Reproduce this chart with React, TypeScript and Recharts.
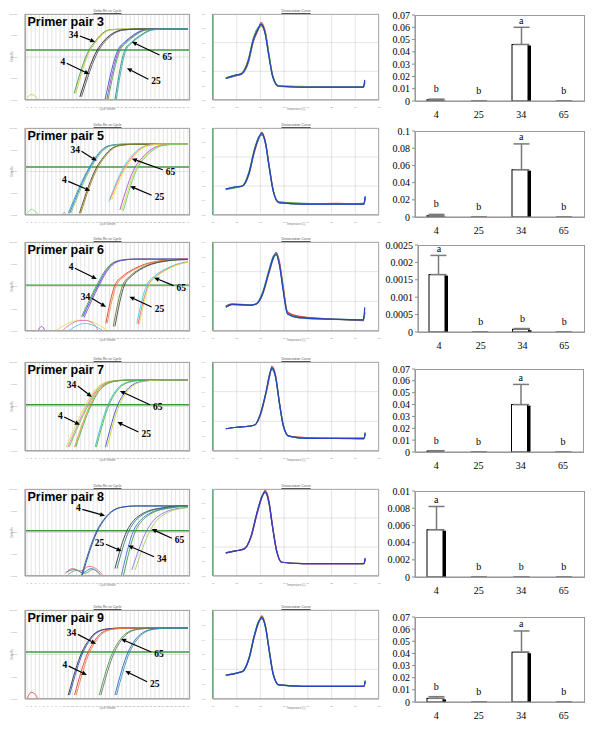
import React from "react";
import {
  LineChart,
  Line,
  XAxis,
  YAxis,
  CartesianGrid,
  ReferenceLine,
  ComposedChart,
  Bar,
  ErrorBar,
  Scatter,
} from "recharts";

// ---- bar chart data (relative expression, 4 samples) ----
const SAMPLES = ["4", "25", "34", "65"];

const expr3 = [0.001, 0, 0.046, 0];
const sd3 = [0.0005, 0, 0.014, 0];
const let3 = ["b", "b", "a", "b"];

const expr5 = [0.0015, 0, 0.055, 0];
const sd5 = [0.0015, 0, 0.03, 0];
const let5 = ["b", "b", "a", "b"];

const expr6 = [0.00165, 0, 0.00008, 0];
const sd6 = [0.00055, 0, 0.00002, 0];
const let6 = ["a", "b", "b", "b"];

const expr7 = [0.0008, 0, 0.04, 0];
const sd7 = [0.0003, 0, 0.017, 0];
const let7 = ["b", "b", "a", "b"];

const expr8 = [0.0055, 0, 0, 0];
const sd8 = [0.0027, 0, 0, 0];
const let8 = ["a", "b", "b", "b"];

const expr9 = [0.003, 0, 0.041, 0];
const sd9 = [0.0014, 0, 0.0175, 0];
const let9 = ["b", "b", "a", "b"];

const ticks07 = [0, 0.01, 0.02, 0.03, 0.04, 0.05, 0.06, 0.07];
const ticks1 = [0, 0.02, 0.04, 0.06, 0.08, 0.1];
const ticks0025 = [0, 0.0005, 0.001, 0.0015, 0.002, 0.0025];
const ticks001 = [0, 0.002, 0.004, 0.006, 0.008, 0.01];

// ---- amplification plots: [cycle, delta Rn] ----
const amp3 = [
  { c: "#d8c840", p: [[1, 0.0012], [2, 0.0018], [3, 0.0015], [3.6, 0.001]] },
  { c: "#2e9e3e", p: [[12.4, 0.002], [16.0, 0.21], [17.4, 0.5], [18.7, 1.0], [21, 1.85], [25, 2.0], [40, 2.0]] },
  { c: "#c9c23a", p: [[12.8, 0.002], [16.3, 0.21], [17.7, 0.5], [19, 1.0], [21.4, 1.85], [25.5, 2.0], [40, 2.0]] },
  { c: "#222222", p: [[13.8, 0.0014], [18.0, 0.21], [19.4, 0.5], [21.0, 1.0], [24, 1.8], [28, 2.0], [40, 2.0]] },
  { c: "#555566", p: [[14.2, 0.0014], [18.4, 0.21], [19.8, 0.5], [21.4, 1.0], [24.4, 1.8], [28.5, 2.0], [40, 2.0]] },
  { c: "#3a55c8", p: [[19.9, 0.001], [23.0, 0.21], [24.7, 0.5], [26.6, 1.0], [29.5, 1.85], [33, 2.0], [40, 2.0]] },
  { c: "#9a48c8", p: [[20.3, 0.001], [23.3, 0.21], [25, 0.5], [26.9, 1.0], [29.8, 1.85], [33.5, 2.0], [40, 2.0]] },
  { c: "#4aa84a", p: [[20.6, 0.001], [23.6, 0.21], [25.3, 0.5], [27.2, 1.0], [30.1, 1.85], [34, 2.0], [40, 2.0]] },
  { c: "#2a8c8c", p: [[22.3, 0.001], [24.7, 0.21], [26.4, 0.5], [28.4, 1.0], [31.3, 1.85], [35, 2.0], [40, 2.0]] },
  { c: "#38a8a0", p: [[22.6, 0.001], [25.0, 0.21], [26.7, 0.5], [28.7, 1.0], [31.6, 1.85], [35.5, 2.0], [40, 2.0]] },
];
const arr3 = [
  { t: "34", from: [13.8, 0.95], to: [17.5, 0.5] },
  { t: "4", from: [10.6, 0.051], to: [16.1, 0.016] },
  { t: "65", from: [33.1, 0.123], to: [26.4, 0.51] },
  { t: "25", from: [30.4, 0.0092], to: [25.2, 0.03] },
];

const amp5 = [
  { c: "#88dd88", p: [[1, 0.0012], [2, 0.0018], [3, 0.0015], [3.5, 0.0011]] },
  { c: "#e070d0", p: [[9.5, 0.001], [10, 0.0013], [10.5, 0.001]] },
  { c: "#2aa0a8", p: [[11.0, 0.0012], [16.1, 0.16], [17.6, 0.45], [19.0, 0.95], [21.3, 1.6], [24, 1.8], [40, 1.8]] },
  { c: "#3a70d0", p: [[11.3, 0.0012], [16.3, 0.16], [17.8, 0.45], [19.2, 0.95], [21.5, 1.6], [24.3, 1.8], [40, 1.8]] },
  { c: "#6cc46c", p: [[11.6, 0.0012], [16.6, 0.16], [18.1, 0.45], [19.5, 0.95], [21.8, 1.6], [24.8, 1.8], [40, 1.8]] },
  { c: "#5a3a1a", p: [[13.7, 0.0012], [17.9, 0.16], [19.5, 0.45], [21.0, 0.95], [23.5, 1.6], [27, 1.8], [40, 1.8]] },
  { c: "#8a8a20", p: [[14.0, 0.0012], [18.2, 0.16], [19.8, 0.45], [21.3, 0.95], [23.8, 1.6], [27.5, 1.8], [40, 1.8]] },
  { c: "#50e0e0", p: [[20.8, 0.004], [24.4, 0.16], [26.1, 0.45], [27.7, 0.95], [30.2, 1.6], [32.7, 1.8], [40, 1.8]] },
  { c: "#ff6a8a", p: [[21.1, 0.005], [24.7, 0.16], [26.4, 0.45], [28, 0.95], [30.5, 1.6], [33, 1.8], [40, 1.8]] },
  { c: "#e8e040", p: [[21.5, 0.005], [25.0, 0.16], [26.7, 0.45], [28.3, 0.95], [30.8, 1.6], [33.5, 1.8], [40, 1.8]] },
  { c: "#a850e0", p: [[23.5, 0.0017], [27.2, 0.16], [29, 0.45], [30.8, 0.95], [33.5, 1.6], [37, 1.8], [40, 1.8]] },
  { c: "#d8d840", p: [[24.0, 0.0017], [27.6, 0.16], [29.4, 0.45], [31.2, 0.95], [33.9, 1.6], [37.5, 1.8], [40, 1.8]] },
  { c: "#6ccc6c", p: [[24.3, 0.0015], [27.9, 0.16], [29.7, 0.45], [31.5, 0.95], [34.2, 1.6], [38, 1.8], [40, 1.8]] },
];
const arr5 = [
  { t: "34", from: [14.2, 0.85], to: [17.9, 0.31] },
  { t: "4", from: [11.0, 0.035], to: [16.3, 0.013] },
  { t: "65", from: [33.9, 0.12], to: [26.4, 0.39] },
  { t: "25", from: [31.2, 0.0081], to: [26.0, 0.021] },
];

const amp6 = [
  { c: "#e8e050", p: [[7.8, 0.001], [10, 0.0018], [12, 0.0027], [14.2, 0.0031], [16.5, 0.0027], [18.5, 0.0018], [20.7, 0.001]] },
  { c: "#e070c0", p: [[9.5, 0.001], [11.5, 0.002], [13.5, 0.0029], [15, 0.003], [17, 0.0022], [18.3, 0.001]] },
  { c: "#50c8e0", p: [[11, 0.001], [13, 0.0017], [15, 0.0022], [17, 0.0018], [19.5, 0.001]] },
  { c: "#9050c0", p: [[3.6, 0.001], [4.5, 0.0016], [5.4, 0.001]] },
  { c: "#3aa844", p: [[14.2, 0.0044], [17.9, 0.115], [19.5, 0.4], [21.0, 0.9], [23.5, 1.5], [26.5, 1.7], [40, 1.7]] },
  { c: "#3550d0", p: [[14.5, 0.0044], [18.2, 0.115], [19.8, 0.4], [21.3, 0.9], [23.8, 1.5], [27, 1.7], [40, 1.7]] },
  { c: "#8a44c8", p: [[14.8, 0.004], [18.5, 0.115], [20.1, 0.4], [21.6, 0.9], [24.1, 1.5], [27.5, 1.7], [40, 1.7]] },
  { c: "#e03a30", p: [[20.1, 0.0022], [22.3, 0.115], [24.3, 0.3], [26.8, 0.6], [29.5, 1.0], [32.4, 1.35], [36, 1.6], [40, 1.7]] },
  { c: "#f08a50", p: [[20.4, 0.0022], [22.7, 0.115], [24.7, 0.3], [27.2, 0.6], [29.9, 1.0], [32.8, 1.35], [36.4, 1.6], [40, 1.68]] },
  { c: "#6a7a30", p: [[21.9, 0.0016], [24.2, 0.115], [26.0, 0.3], [28.2, 0.6], [30.8, 1.0], [33.8, 1.35], [37.5, 1.6], [40, 1.65]] },
  { c: "#404850", p: [[22.3, 0.0016], [24.6, 0.115], [26.4, 0.3], [28.6, 0.6], [31.2, 1.0], [34.2, 1.35], [37.9, 1.58], [40, 1.63]] },
  { c: "#40d0e0", p: [[27.6, 0.0022], [30.0, 0.115], [32.0, 0.3], [34.5, 0.6], [37.2, 1.0], [40, 1.3]] },
  { c: "#e060a0", p: [[27.9, 0.002], [30.4, 0.115], [32.4, 0.3], [34.9, 0.6], [37.6, 1.0], [40, 1.25]] },
  { c: "#e0e040", p: [[28.2, 0.002], [30.6, 0.115], [32.6, 0.3], [35.1, 0.6], [37.8, 1.0], [40, 1.22]] },
];
const arr6 = [
  { t: "4", from: [12.6, 0.66], to: [17.9, 0.22] },
  { t: "34", from: [16.7, 0.03], to: [20.1, 0.012] },
  { t: "65", from: [36.5, 0.11], to: [31.8, 0.25] },
  { t: "25", from: [31.2, 0.012], to: [25.8, 0.035] },
];

const amp7 = [
  { c: "#e0e040", p: [[10.5, 0.0015], [15.2, 0.12], [17, 0.45], [18.8, 0.95], [21.5, 1.4], [25, 1.55], [40, 1.55]] },
  { c: "#f080b0", p: [[10.9, 0.0015], [15.6, 0.12], [17.4, 0.45], [19.2, 0.95], [21.9, 1.4], [25.5, 1.55], [40, 1.55]] },
  { c: "#60c060", p: [[11.2, 0.0015], [15.9, 0.12], [17.7, 0.45], [19.5, 0.95], [22.2, 1.4], [25.8, 1.55], [40, 1.55]] },
  { c: "#f08a20", p: [[12.5, 0.0015], [16.3, 0.12], [18, 0.45], [19.8, 0.95], [22.5, 1.4], [26, 1.55], [40, 1.55]] },
  { c: "#40b040", p: [[12.8, 0.0015], [16.6, 0.12], [18.3, 0.45], [20.1, 0.95], [22.8, 1.4], [26.4, 1.55], [40, 1.55]] },
  { c: "#30c0c0", p: [[17.5, 0.0015], [20.6, 0.12], [22.3, 0.45], [24, 0.95], [26.8, 1.4], [30, 1.55], [40, 1.55]] },
  { c: "#50b050", p: [[17.8, 0.0015], [20.9, 0.12], [22.6, 0.45], [24.3, 0.95], [27.1, 1.4], [30.4, 1.55], [40, 1.55]] },
  { c: "#3a50c8", p: [[20, 0.0015], [23, 0.12], [24.8, 0.45], [26.6, 0.95], [29.5, 1.4], [33, 1.55], [40, 1.55]] },
  { c: "#d0d040", p: [[20.4, 0.0015], [23.4, 0.12], [25.2, 0.45], [27, 0.95], [29.9, 1.4], [33.5, 1.55], [40, 1.55]] },
];
const arr7 = [
  { t: "34", from: [13.3, 0.83], to: [16.7, 0.27] },
  { t: "4", from: [10.0, 0.034], to: [13.8, 0.015] },
  { t: "65", from: [30.8, 0.12], to: [23.5, 0.5] },
  { t: "25", from: [28.0, 0.0071], to: [22.9, 0.02] },
];

const amp8 = [
  { c: "#e07090", p: [[10.2, 0.0013], [12, 0.0022], [14, 0.0017], [16, 0.0028], [18, 0.002], [19.5, 0.001]] },
  { c: "#5070d0", p: [[10.5, 0.0015], [12.5, 0.002], [14.5, 0.0014], [16.5, 0.0022], [18.7, 0.0012]] },
  { c: "#60b060", p: [[11, 0.0012], [13, 0.0018], [15, 0.0013], [17, 0.002], [19, 0.001]] },
  { c: "#206060", p: [[14.4, 0.0011], [18.1, 0.12], [19.8, 0.4], [21.4, 0.85], [24, 1.45], [27.5, 1.66], [40, 1.66]] },
  { c: "#3050c0", p: [[14.2, 0.0011], [17.9, 0.12], [19.6, 0.4], [21.2, 0.85], [23.8, 1.45], [27, 1.66], [40, 1.66]] },
  { c: "#304040", p: [[22.3, 0.0022], [25.2, 0.12], [26.8, 0.35], [28.4, 0.63], [30.5, 1.0], [33.2, 1.3], [37, 1.6], [40, 1.66]] },
  { c: "#3a7a7a", p: [[22.8, 0.0022], [25.7, 0.12], [27.3, 0.35], [28.9, 0.63], [31.0, 1.0], [33.7, 1.3], [37.5, 1.6], [40, 1.65]] },
  { c: "#4070e0", p: [[23.9, 0.0011], [26.8, 0.12], [28.4, 0.35], [30, 0.63], [32.1, 1.0], [34.8, 1.3], [38.5, 1.6], [40, 1.63]] },
  { c: "#40a040", p: [[24.4, 0.0011], [27.3, 0.12], [28.9, 0.35], [30.5, 0.63], [32.6, 1.0], [35.3, 1.3], [39, 1.58], [40, 1.61]] },
  { c: "#9070e0", p: [[26.4, 0.0019], [30.0, 0.12], [31.6, 0.35], [33.2, 0.63], [35.3, 1.0], [38, 1.3], [40, 1.45]] },
  { c: "#a0d060", p: [[27.2, 0.0019], [30.8, 0.12], [32.4, 0.35], [34, 0.63], [36.1, 1.0], [38.8, 1.3], [40, 1.4]] },
];
const arr8 = [
  { t: "4", from: [14.4, 1.15], to: [19.9, 0.59] },
  { t: "25", from: [20.1, 0.029], to: [23.9, 0.014] },
  { t: "34", from: [31.8, 0.0077], to: [25.5, 0.025] },
  { t: "65", from: [36.1, 0.054], to: [31.2, 0.144] },
];

const amp9 = [
  { c: "#e04040", p: [[1, 0.001], [2, 0.002], [3, 0.0016], [3.6, 0.001]] },
  { c: "#303030", p: [[11, 0.0015], [14.3, 0.13], [16, 0.45], [17.6, 0.95], [20.3, 1.4], [24, 1.55], [40, 1.55]] },
  { c: "#3050c0", p: [[11.3, 0.0015], [14.6, 0.13], [16.3, 0.45], [17.9, 0.95], [20.6, 1.4], [24.4, 1.55], [40, 1.55]] },
  { c: "#e04040", p: [[12.5, 0.0015], [15.8, 0.13], [17.5, 0.45], [19.1, 0.95], [21.8, 1.4], [25.5, 1.55], [40, 1.55]] },
  { c: "#f08030", p: [[12.9, 0.0015], [16.2, 0.13], [17.9, 0.45], [19.5, 0.95], [22.2, 1.4], [26, 1.55], [40, 1.55]] },
  { c: "#40a040", p: [[18.5, 0.0015], [21.8, 0.13], [23.5, 0.45], [25.2, 0.95], [28, 1.4], [32, 1.55], [40, 1.55]] },
  { c: "#707070", p: [[18.9, 0.0015], [22.2, 0.13], [23.9, 0.45], [25.6, 0.95], [28.4, 1.4], [32.5, 1.55], [40, 1.55]] },
  { c: "#3a60c8", p: [[22.3, 0.0015], [25.5, 0.13], [27.2, 0.45], [29, 0.95], [31.8, 1.4], [35.5, 1.55], [40, 1.55]] },
  { c: "#30a0a0", p: [[22.7, 0.0015], [25.9, 0.13], [27.6, 0.45], [29.4, 0.95], [32.2, 1.4], [36, 1.55], [40, 1.55]] },
];
const arr9 = [
  { t: "34", from: [13.3, 0.8], to: [17.7, 0.3] },
  { t: "4", from: [11.1, 0.03], to: [15.5, 0.012] },
  { t: "65", from: [31.1, 0.13], to: [23.8, 0.5] },
  { t: "25", from: [30.1, 0.006], to: [24.8, 0.018] },
];

// ---- dissociation curves: temperature (C) and derivative ----
const dT3 = [62.7, 65.0, 66.0, 67.5, 68.5, 69.6, 70.1, 71.0, 71.7, 72.6, 73.8, 78.6, 85.6, 91.7, 92.0];
const dv3 = [
  { c: "#3aa83a", v: [0.11, 0.15, 0.17, 0.38, 0.66, 0.82, 0.84, 0.75, 0.48, 0.14, 0.0, -0.015, -0.025, -0.018, 0.06] },
  { c: "#d04848", v: [0.1, 0.14, 0.16, 0.33, 0.61, 0.79, 0.88, 0.76, 0.47, 0.13, -0.01, -0.02, -0.015, -0.025, 0.05] },
  { c: "#9ac020", v: [0.1, 0.15, 0.17, 0.37, 0.65, 0.81, 0.83, 0.74, 0.47, 0.135, 0.0, -0.01, -0.02, -0.02, 0.03] },
  { c: "#20a0a0", v: [0.105, 0.148, 0.162, 0.35, 0.63, 0.81, 0.85, 0.72, 0.44, 0.12, -0.005, -0.022, -0.02, -0.02, 0.04] },
  { c: "#2a40c0", v: [0.1, 0.15, 0.165, 0.36, 0.64, 0.8, 0.86, 0.73, 0.45, 0.125, -0.005, -0.02, -0.02, -0.02, 0.08] },
];
const dT5 = [62.7, 65.0, 66.2, 67.6, 68.7, 69.7, 70.3, 71.1, 71.8, 72.7, 73.9, 79, 86, 91.8, 92.1];
const dv5 = [
  { c: "#3aa83a", v: [0.15, 0.18, 0.2, 0.4, 0.7, 0.88, 0.9, 0.78, 0.5, 0.14, -0.02, -0.04, -0.05, -0.04, 0.03] },
  { c: "#d04848", v: [0.16, 0.19, 0.2, 0.36, 0.66, 0.86, 0.94, 0.8, 0.5, 0.14, -0.03, -0.05, -0.04, -0.05, 0.04] },
  { c: "#20a0a0", v: [0.16, 0.185, 0.2, 0.38, 0.68, 0.87, 0.92, 0.77, 0.47, 0.13, -0.03, -0.05, -0.05, -0.05, 0.05] },
  { c: "#2a40c0", v: [0.16, 0.19, 0.2, 0.38, 0.68, 0.88, 0.93, 0.78, 0.48, 0.13, -0.03, -0.05, -0.05, -0.05, 0.06] },
];
const dT6 = [62.7, 64, 66, 68, 69.2, 70.5, 71.8, 72.8, 73.3, 74.0, 74.8, 75.7, 78, 85, 91.7, 92.0];
const dv6 = [
  { c: "#3aa83a", v: [0.13, 0.16, 0.155, 0.15, 0.17, 0.33, 0.62, 0.82, 0.84, 0.72, 0.38, 0.05, -0.01, -0.04, -0.05, 0.04] },
  { c: "#d04848", v: [0.14, 0.165, 0.16, 0.15, 0.17, 0.3, 0.58, 0.79, 0.86, 0.74, 0.4, 0.06, 0.0, -0.04, -0.06, 0.05] },
  { c: "#20a0a0", v: [0.12, 0.155, 0.15, 0.15, 0.17, 0.32, 0.6, 0.8, 0.85, 0.7, 0.36, 0.04, -0.02, -0.045, -0.05, 0.06] },
  { c: "#2a40c0", v: [0.12, 0.16, 0.155, 0.148, 0.165, 0.31, 0.6, 0.8, 0.83, 0.69, 0.34, 0.03, -0.02, -0.04, -0.05, 0.12] },
];
const dT7 = [62.7, 65, 67, 68.8, 70, 71.2, 72, 72.4, 73.2, 74, 74.8, 76, 80, 86, 91.8, 92.1];
const dv7 = [
  { c: "#3aa83a", v: [0.1, 0.12, 0.13, 0.15, 0.3, 0.6, 0.84, 0.9, 0.8, 0.46, 0.16, 0.0, -0.03, -0.03, -0.03, 0.03] },
  { c: "#d04848", v: [0.1, 0.12, 0.13, 0.15, 0.28, 0.58, 0.82, 0.94, 0.82, 0.45, 0.15, 0.0, -0.02, -0.03, -0.03, 0.04] },
  { c: "#20a0a0", v: [0.1, 0.12, 0.13, 0.15, 0.3, 0.6, 0.85, 0.91, 0.79, 0.44, 0.14, 0.0, -0.03, -0.03, -0.04, 0.04] },
  { c: "#2a40c0", v: [0.1, 0.12, 0.13, 0.15, 0.3, 0.6, 0.85, 0.92, 0.8, 0.45, 0.15, 0.0, -0.03, -0.03, -0.03, 0.05] },
];
const dT8 = [62.7, 65, 66.5, 68, 69.2, 70.3, 71, 71.8, 72.5, 73.4, 74.5, 79, 86, 91.8, 92.1];
const dv8 = [
  { c: "#3aa83a", v: [0.12, 0.15, 0.17, 0.35, 0.66, 0.9, 0.95, 0.8, 0.5, 0.15, -0.01, -0.03, -0.03, -0.03, 0.03] },
  { c: "#d04848", v: [0.12, 0.15, 0.17, 0.33, 0.63, 0.88, 0.98, 0.84, 0.52, 0.16, -0.01, -0.03, -0.03, -0.03, 0.04] },
  { c: "#a040c0", v: [0.12, 0.15, 0.17, 0.34, 0.65, 0.89, 0.96, 0.82, 0.5, 0.15, -0.01, -0.03, -0.03, -0.03, 0.03] },
  { c: "#2a40c0", v: [0.12, 0.15, 0.17, 0.34, 0.65, 0.89, 0.96, 0.81, 0.5, 0.15, -0.01, -0.03, -0.03, -0.03, 0.05] },
];
const dT9 = [62.7, 65, 66.2, 67.6, 68.7, 69.7, 70.3, 71.1, 71.8, 72.7, 73.9, 79, 86, 91.8, 92.1];
const dv9 = [
  { c: "#3aa83a", v: [0.12, 0.15, 0.17, 0.36, 0.66, 0.86, 0.88, 0.76, 0.48, 0.14, -0.01, -0.03, -0.03, -0.03, 0.03] },
  { c: "#d04848", v: [0.12, 0.15, 0.17, 0.34, 0.63, 0.84, 0.92, 0.78, 0.49, 0.14, -0.01, -0.03, -0.03, -0.03, 0.04] },
  { c: "#20a0a0", v: [0.12, 0.15, 0.17, 0.35, 0.65, 0.85, 0.89, 0.76, 0.47, 0.13, -0.01, -0.03, -0.03, -0.03, 0.04] },
  { c: "#2a40c0", v: [0.12, 0.15, 0.17, 0.35, 0.65, 0.85, 0.9, 0.76, 0.47, 0.13, -0.01, -0.03, -0.03, -0.03, 0.05] },
];

const ROWS = [
  { label: "Primer pair 3", amp: amp3, arrows: arr3, thr: 0.21, dT: dT3, dv: dv3, expr: expr3, sd: sd3, letters: let3, ticks: ticks07 },
  { label: "Primer pair 5", amp: amp5, arrows: arr5, thr: 0.16, dT: dT5, dv: dv5, expr: expr5, sd: sd5, letters: let5, ticks: ticks1 },
  { label: "Primer pair 6", amp: amp6, arrows: arr6, thr: 0.115, dT: dT6, dv: dv6, expr: expr6, sd: sd6, letters: let6, ticks: ticks0025 },
  { label: "Primer pair 7", amp: amp7, arrows: arr7, thr: 0.12, dT: dT7, dv: dv7, expr: expr7, sd: sd7, letters: let7, ticks: ticks07 },
  { label: "Primer pair 8", amp: amp8, arrows: arr8, thr: 0.12, dT: dT8, dv: dv8, expr: expr8, sd: sd8, letters: let8, ticks: ticks001 },
  { label: "Primer pair 9", amp: amp9, arrows: arr9, thr: 0.13, dT: dT9, dv: dv9, expr: expr9, sd: sd9, letters: let9, ticks: ticks07 },
];

// layout (pixels)
const AMP_X = [25, 190];
const DIS_X = [213, 379];
const PANEL_Y = [[14, 100], [128, 215], [242, 331], [362, 451], [489, 576], [610, 699]];
const BAR_Y = [[15, 101], [131, 217], [245, 332], [369, 452], [491, 577], [617, 702]];
const BAR_X = [[415, 585], [415, 585], [418, 585], [415, 584], [415, 585], [415, 585]];

const CYCLES = Array.from({ length: 40 }, (_, i) => i + 1);
const AMP_TICKS = [0.001, 0.01, 0.1, 1, 10];
const TEMP_TICKS = [60, 65, 70, 75, 80, 85, 90, 95];
const DER_TICKS = [-0.2, 0, 0.2, 0.4, 0.6, 0.8, 1.0];

const tiny = { fontSize: 2.4, fill: "#888" };
const SERIF = "'Liberation Serif', 'Times New Roman', serif";

function ArrowMark(props: any) {
  const { x1, y1, x2, y2, label } = props;
  if ([x1, y1, x2, y2].some((v) => v == null || isNaN(v))) return null;
  const ang = Math.atan2(y2 - y1, x2 - x1);
  const hl = 5;
  const hw = 2.3;
  const bx = x2 - hl * Math.cos(ang);
  const by = y2 - hl * Math.sin(ang);
  const px = -Math.sin(ang) * hw;
  const py = Math.cos(ang) * hw;
  const right = x2 > x1;
  return (
    <g>
      <line x1={x1} y1={y1} x2={bx} y2={by} stroke="#000" strokeWidth={1.2} />
      <polygon points={`${x2},${y2} ${bx + px},${by + py} ${bx - px},${by - py}`} fill="#000" />
      <text
        x={right ? x1 - 1.5 : x1 + 3}
        y={right ? y1 + 2 : y1 + 5}
        textAnchor={right ? "end" : "start"}
        fontFamily={SERIF}
        fontWeight="bold"
        fontSize={9.5}
        fill="#000"
      >
        {label}
      </text>
    </g>
  );
}

function AmpPanel({ row, box }: any) {
  const L = 16, R = 8, T = 8, B = 14;
  const w = AMP_X[1] - AMP_X[0];
  const h = box[1] - box[0];
  return (
    <div style={{ position: "absolute", left: AMP_X[0] - L, top: box[0] - T, width: w + L + R, height: h + T + B }}>
      <LineChart width={w + L + R} height={h + T + B} margin={{ top: T, right: R, left: 0, bottom: 0 }}>
        <CartesianGrid stroke="#d2d2d2" strokeWidth={0.6} />
        <XAxis type="number" dataKey="x" domain={[0.5, 40.5]} ticks={CYCLES} interval={0} height={B} allowDataOverflow tick={tiny} tickLine={false} tickMargin={0.5} axisLine={{ stroke: "#a0a0a0" }} />
        <YAxis type="number" scale="log" domain={[0.001, 10]} ticks={AMP_TICKS} allowDataOverflow width={L} tick={tiny} tickLine={false} axisLine={{ stroke: "#a0a0a0" }} tickFormatter={(v: number) => v.toFixed(3)} />
        <ReferenceLine y={row.thr} stroke="#3c9c3c" strokeWidth={1.4} />
        {row.amp.map((cv: any, k: number) => (
          <Line key={k} data={cv.p.map(([x, y]: number[]) => ({ x, y }))} dataKey="y" type="monotone" stroke={cv.c} strokeWidth={0.9} dot={false} isAnimationActive={false} />
        ))}
        {row.arrows.map((a: any, k: number) => (
          <ReferenceLine
            key={"a" + k}
            segment={[{ x: a.from[0], y: a.from[1] }, { x: a.to[0], y: a.to[1] }]}
            ifOverflow="visible"
            shape={(p: any) => <ArrowMark {...p} label={a.t} />}
          />
        ))}
      </LineChart>
      <div style={{ position: "absolute", left: L, top: T, width: w, height: h, border: "1px solid #a8a8a8", boxSizing: "border-box", pointerEvents: "none" }} />
      <div style={{ position: "absolute", left: L, width: w, top: T - 5, fontSize: 3.5, textAlign: "center", textDecoration: "underline", color: "#555", lineHeight: "4px" }}>Delta Rn vs Cycle</div>
      <div style={{ position: "absolute", left: L, width: w, top: T + h + 8, fontSize: 2.6, textAlign: "center", color: "#777", lineHeight: "3px" }}>Cycle Number</div>
      <div style={{ position: "absolute", left: -2, top: T + h / 2 - 2, fontSize: 2.6, color: "#777", transform: "rotate(-90deg)", lineHeight: "3px" }}>Delta Rn</div>
      <div style={{ position: "absolute", left: L + 2.5, top: T + 1.3, fontSize: 12.5, fontWeight: "bold", fontFamily: "'Liberation Sans', Arial, sans-serif", color: "#000", lineHeight: "normal", whiteSpace: "nowrap" }}>
        {row.label}
      </div>
    </div>
  );
}

function DissPanel({ row, box }: any) {
  const L = 12, R = 8, T = 8, B = 14;
  const w = DIS_X[1] - DIS_X[0];
  const h = box[1] - box[0];
  return (
    <div style={{ position: "absolute", left: DIS_X[0] - L, top: box[0] - T, width: w + L + R, height: h + T + B }}>
      <LineChart width={w + L + R} height={h + T + B} margin={{ top: T, right: R, left: 0, bottom: 0 }}>
        <CartesianGrid stroke="#d2d2d2" strokeWidth={0.6} />
        <XAxis type="number" dataKey="x" domain={[60, 95]} ticks={TEMP_TICKS} interval={0} height={B} allowDataOverflow tick={tiny} tickLine={false} tickMargin={0.5} axisLine={{ stroke: "#a0a0a0" }} />
        <YAxis type="number" domain={[-0.2, 1.0]} ticks={DER_TICKS} allowDataOverflow width={L} tick={tiny} tickLine={false} axisLine={{ stroke: "#a0a0a0" }} tickFormatter={(v: number) => v.toFixed(1)} />
        <ReferenceLine x={60} stroke="#4caf50" strokeWidth={2} />
        {row.dv.map((cv: any, k: number) => (
          <Line key={k} data={row.dT.map((x: number, i: number) => ({ x, y: cv.v[i] }))} dataKey="y" type="monotone" stroke={cv.c} strokeWidth={1.2} dot={false} isAnimationActive={false} />
        ))}
      </LineChart>
      <div style={{ position: "absolute", left: L, top: T, width: w, height: h, border: "1px solid #b0b0b0", boxSizing: "border-box", pointerEvents: "none" }} />
      <div style={{ position: "absolute", left: L, width: w, top: T - 5, fontSize: 3.5, textAlign: "center", textDecoration: "underline", color: "#555", lineHeight: "4px" }}>Dissociation Curve</div>
      <div style={{ position: "absolute", left: L, width: w, top: T + h + 8, fontSize: 2.6, textAlign: "center", color: "#777", lineHeight: "3px" }}>Temperature (C)</div>
    </div>
  );
}

function BarShape(props: any) {
  const { x, y, width, height } = props;
  if (x == null || isNaN(y)) return null;
  if (height < 0.8) {
    const cx = x + width / 2;
    return <line x1={cx - 4} x2={cx + 4} y1={y + height} y2={y + height} stroke="#333" strokeWidth={1.2} />;
  }
  return (
    <g>
      <rect x={x} y={y} width={width - 3} height={height} fill="#fff" stroke="#000" strokeWidth={1} />
      <rect x={x + width - 3} y={y + 1} width={3} height={height - 1} fill="#000" />
    </g>
  );
}

function LetterShape(props: any) {
  const { cx, cy, payload } = props;
  if (cx == null || cy == null) return null;
  const lift = payload.letter === "a" ? 3.5 : 7;
  return (
    <text x={cx} y={cy - lift} textAnchor="middle" fontSize={10} fontFamily={SERIF} fill="#000">
      {payload.letter}
    </text>
  );
}

const fmtTick = (v: number) => (v === 0 ? "0" : String(Number(v.toFixed(4))));

function BarPanel({ row, box, bx }: any) {
  const L = 36, R = 6, T = 8, B = 18;
  const w = bx[1] - bx[0];
  const h = box[1] - box[0];
  const max = row.ticks[row.ticks.length - 1];
  const data = SAMPLES.map((s, i) => ({
    s,
    v: row.expr[i],
    e: [0, row.sd[i]],
    top: row.expr[i] + row.sd[i],
    letter: row.letters[i],
  }));
  const axisStyle = { fontSize: 10, fill: "#000", fontFamily: SERIF };
  return (
    <div style={{ position: "absolute", left: bx[0] - L, top: box[0] - T, width: w + L + R, height: h + T + B }}>
      <ComposedChart width={w + L + R} height={h + T + B} data={data} margin={{ top: T, right: R, left: 0, bottom: 0 }}>
        <XAxis dataKey="s" height={B} tickLine={false} axisLine={{ stroke: "#8c8c8c" }} tick={axisStyle} tickMargin={4} interval={0} />
        <YAxis type="number" domain={[0, max]} ticks={row.ticks} interval={0} allowDataOverflow width={L} tick={axisStyle} tickFormatter={fmtTick} tickSize={3} tickLine={{ stroke: "#8c8c8c" }} axisLine={{ stroke: "#8c8c8c" }} />
        <Bar dataKey="v" barSize={19} shape={BarShape} isAnimationActive={false}>
          <ErrorBar dataKey="e" width={8} stroke="#7a7a7a" strokeWidth={1.5} direction="y" />
        </Bar>
        <Scatter dataKey="top" shape={LetterShape} isAnimationActive={false} />
      </ComposedChart>
      <div style={{ position: "absolute", left: L, top: T, width: w, height: h + 1, border: "1px solid #9a9a9a", boxSizing: "border-box", pointerEvents: "none" }} />
    </div>
  );
}

export default function App() {
  return (
    <div style={{ position: "absolute", left: 0, top: 0, width: 600, height: 731, background: "#fff", fontFamily: "'Liberation Sans', Arial, sans-serif", overflow: "hidden" }}>
      {ROWS.map((row, i) => (
        <React.Fragment key={i}>
          <AmpPanel row={row} box={PANEL_Y[i]} />
          <DissPanel row={row} box={PANEL_Y[i]} />
          <BarPanel row={row} box={BAR_Y[i]} bx={BAR_X[i]} />
        </React.Fragment>
      ))}
    </div>
  );
}
